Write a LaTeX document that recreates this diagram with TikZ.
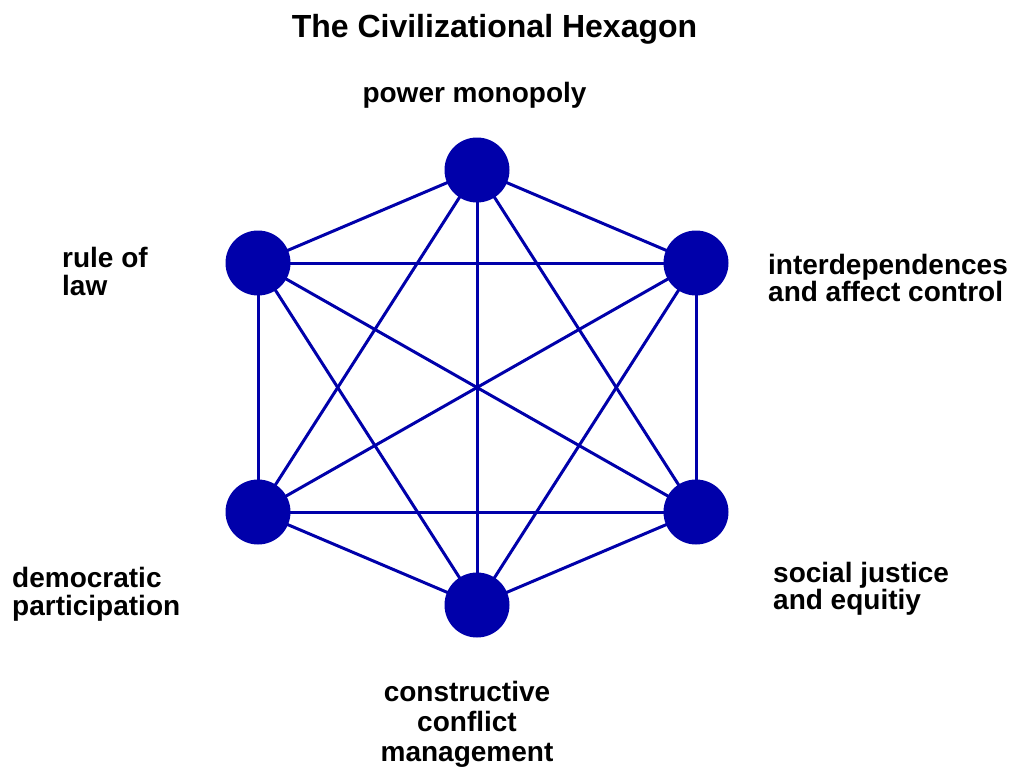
\documentclass[tikz,border=0pt]{standalone}
\usepackage{fontspec}
\setmainfont{Liberation Sans}
\definecolor{hexblue}{RGB}{0,0,170}
\begin{document}
\begin{tikzpicture}[x=1pt,y=-1pt,
  vtx/.style={circle,fill=hexblue,draw=none,minimum size=65pt,inner sep=0pt},
  edge/.style={draw=hexblue,line width=3pt},
  lbl/.style={font=\fontsize{28}{28}\selectfont\bfseries,inner sep=0pt},
  ttl/.style={font=\fontsize{32}{32}\selectfont\bfseries,inner sep=0pt}]
\useasboundingbox (0,0) rectangle (1013,769);
\node[ttl,anchor=base] (title) at (494.5,37) {The Civilizational Hexagon};
\coordinate (cT) at (477,170);
\coordinate (cUL) at (258,263);
\coordinate (cUR) at (696,263);
\coordinate (cLL) at (258,512);
\coordinate (cLR) at (696,512);
\coordinate (cB) at (477,605);
\foreach \a/\b in {cT/cUL,cT/cUR,cT/cLL,cT/cLR,cT/cB,cUL/cUR,cUL/cLL,cUL/cLR,cUL/cB,cUR/cLL,cUR/cLR,cUR/cB,cLL/cLR,cLL/cB,cLR/cB}
  \draw[edge] (\a) -- (\b);
\node[vtx] (T) at (cT) {};
\node[vtx] (UL) at (cUL) {};
\node[vtx] (UR) at (cUR) {};
\node[vtx] (LL) at (cLL) {};
\node[vtx] (LR) at (cLR) {};
\node[vtx] (B) at (cB) {};
\node[lbl,anchor=base] (l1) at (474.5,102) {power monopoly};
\node[lbl,anchor=base west] (l2a) at (62,267) {rule of};
\node[lbl,anchor=base west] (l2b) at (62,295) {law};
\node[lbl,anchor=base west] (l3a) at (768,274) {interdependences};
\node[lbl,anchor=base west] (l3b) at (768,301) {and affect control};
\node[lbl,anchor=base west] (l4a) at (12,587) {democratic};
\node[lbl,anchor=base west] (l4b) at (12,615) {participation};
\node[lbl,anchor=base west] (l5a) at (773,582) {social justice};
\node[lbl,anchor=base west] (l5b) at (773,609) {and equitiy};
\node[lbl,anchor=base] (l6a) at (467,701) {constructive};
\node[lbl,anchor=base] (l6b) at (467,731) {conflict};
\node[lbl,anchor=base] (l6c) at (467,761) {management};
\end{tikzpicture}
\end{document}
